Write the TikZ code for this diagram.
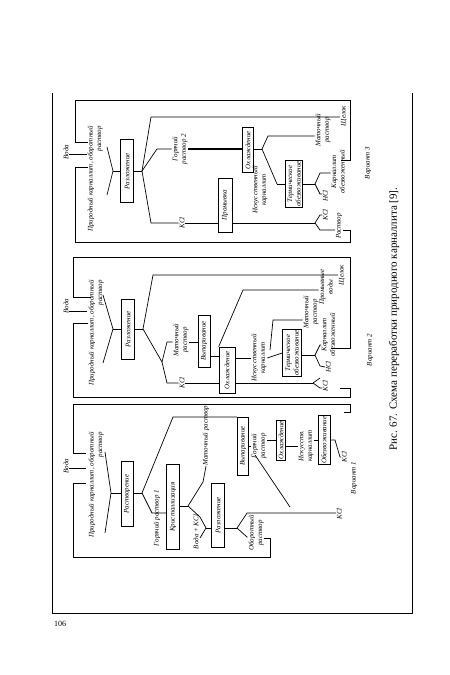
\documentclass[tikz,border=0pt]{standalone}
\usepackage{fontspec}
\setmainfont{Liberation Serif}
\usetikzlibrary{positioning}

\begin{document}
\begin{tikzpicture}[x=1pt,y=-1pt,line width=0.7pt,
    lbl/.style={rotate=90,font=\fontsize{7}{8.5}\selectfont\itshape,inner sep=0.5pt,align=center},
    pbox/.style={lbl,draw,inner sep=1pt}]
  \useasboundingbox (0,0) rectangle (450,675);
  % page frame, page number and caption
  \draw (52,93) -- (52,613) -- (412,613) -- (412,93);
  \node (pagenum) at (60,624) {\fontsize{8}{9}\selectfont 106};
  \node[rotate=90,font=\fontsize{11}{12}\selectfont] (caption) at (394,319) {Рис. 67. Схема переработки природного карналлита [9].};

  % ---- variant 3 ----
  \node[lbl] (v3water) at (66,152) {Вода};
  \node[lbl,align=right] (v3feed) at (95,179) {Природный карналлит, оборотный\\раствор};
  \coordinate (v3mt) at (107,147);
  \coordinate (v3m) at (113,171);
  \coordinate (v3mb) at (107,195);
  \draw (v3mt) -- (v3m) -- (v3mb);
  \node[pbox,minimum width=63pt,minimum height=13pt] (v3dec) at (127,171) {Разложение};
  \draw (v3m) -- (v3dec.north);
  \coordinate (v3f1) at (142,171);
  \draw (v3dec.south) -- (v3f1);
  \node[lbl] (v3liq) at (344,116) {Щелок};
  \coordinate (v3u) at (151,117);
  \draw (v3f1) -- (v3u) -- (v3liq.north |- v3u);
  \node[lbl] (v3hot) at (180,149) {Горячий\\раствор 2};
  \coordinate (v3h) at (157,149);
  \draw (v3f1) -- (v3h) -- (v3hot.north |- v3h);
  \node[pbox,minimum width=45pt,minimum height=11pt] (v3cool) at (248,150) {Охлаждение};
  \draw[line width=1.4pt] (v3hot.south |- v3h) -- (v3cool.north |- v3h);
  \coordinate (v3f2) at (262,149);
  \draw (v3cool.south |- v3f2) -- (v3f2);
  \node[lbl] (v3moth) at (323,130) {Маточный\\раствор};
  \coordinate (v3mu) at (268,136);
  \draw (v3f2) -- (v3mu) -- (v3moth.north |- v3mu);
  \node[lbl] (v3art) at (260,190) {Искусственный\\карналлит};
  \coordinate (v3ad) at (277,184);
  \draw (v3f2) -- (v3ad);
  \node[pbox,minimum width=47pt,minimum height=17pt] (v3dehy) at (294,184) {Термическое\\обезвоживание};
  \draw (v3ad) -- (v3dehy.north);
  \coordinate (v3f3) at (315,184);
  \draw (v3dehy.south) -- (v3f3);
  \node[lbl] (v3dcarn) at (338,172) {Карналлит\\обезвоженный};
  \coordinate (v3du) at (320,173);
  \draw (v3f3) -- (v3du) -- (v3dcarn.north |- v3du);
  \coordinate (v3dd) at (320,194);
  \node[lbl,anchor=north] (v3hcl) at (322,196) {HCl};
  \draw (v3f3) -- (v3dd) -- (v3hcl.north |- v3dd);
  \node[lbl] (v3kcl) at (182,223) {KCl};
  \coordinate (v3l) at (151,223);
  \draw (v3f1) -- (v3l) -- (v3kcl.north);
  \node[pbox,minimum width=54pt,minimum height=14pt] (v3wash) at (225,205) {Промывка};
  \draw (v3kcl.south) -- (v3wash.north |- v3kcl);
  \coordinate (v3f4) at (315,223);
  \draw (v3wash.south |- v3f4) -- (v3f4);
  \coordinate (v3wu) at (320,215);
  \coordinate (v3wd) at (320,230);
  \node[lbl,anchor=north] (v3kcl2) at (322,215) {KCl};
  \node[lbl] (v3sol) at (339,226) {Раствор};
  \draw (v3f4) -- (v3wu) -- (v3kcl2.north);
  \draw (v3f4) -- (v3wd) -- (v3sol.north |- v3wd);
  % returns
  \coordinate (v3r1) at (341,160);
  \coordinate (v3r2) at (350,160);
  \coordinate (v3r3) at (350,100);
  \coordinate (v3r4) at (75,100);
  \coordinate (v3r5) at (75,142);
  \coordinate (v3r6) at (88,142);
  \draw (v3r1) -- (v3r2) -- (v3r3) -- (v3r4) -- (v3r5) -- (v3r6);
  \coordinate (v3s1) at (350,230);
  \coordinate (v3s2) at (350,242);
  \coordinate (v3s3) at (75,242);
  \coordinate (v3s4) at (75,167);
  \coordinate (v3s5) at (88,167);
  \draw (v3sol.south |- v3wd) -- (v3s1) -- (v3s2) -- (v3s3) -- (v3s4) -- (v3s5);
  \coordinate (v3wi) at (87,154);
  \draw (v3water.south |- v3wi) -- (v3wi);
  \node[lbl] (v3name) at (368,163) {Вариант 3};

  % ---- variant 2 ----
  \node[lbl] (v2water) at (66,306) {Вода};
  \node[lbl,align=right] (v2feed) at (96,333) {Природный карналлит, оборотный\\раствор};
  \coordinate (v2mt) at (103,295);
  \coordinate (v2m) at (113,329);
  \coordinate (v2mb) at (103,363);
  \draw (v2mt) -- (v2m) -- (v2mb);
  \node[pbox,minimum width=60pt,minimum height=13pt] (v2dec) at (128,329) {Разложение};
  \draw (v2m) -- (v2dec.north);
  \coordinate (v2f1) at (143,329);
  \draw (v2dec.south) -- (v2f1);
  \node[lbl] (v2liq) at (342,275) {Щелок};
  \coordinate (v2u) at (153,275);
  \draw (v2f1) -- (v2u) -- (v2liq.north |- v2u);
  \coordinate (v2f2) at (162,362);
  \draw (v2f1) -- (v2f2);
  \node[lbl] (v2moth) at (181,340) {Маточный\\раствор};
  \coordinate (v2mu) at (167,342);
  \draw (v2f2) -- (v2mu) -- (v2moth.north |- v2mu);
  \node[pbox,minimum width=52pt,minimum height=12pt] (v2evap) at (204,341) {Выпаривание};
  \draw (v2moth.south |- v2mu) -- (v2evap.north |- v2mu);
  \node[lbl] (v2kcl) at (182,383) {KCl};
  \coordinate (v2kd) at (167,383);
  \draw (v2f2) -- (v2kd) -- (v2kcl.north);
  \node[pbox,minimum width=46pt,minimum height=16pt] (v2cryst) at (227,370) {Охлаждение};
  \draw (v2kcl.south) -- (v2cryst.north |- v2kcl);
  \draw (v2evap.south |- 0,356) -- (v2cryst.north |- 0,356);
  \coordinate (v2c1) at (243,290);
  \node[lbl] (v2wat) at (326,287) {Промывные\\воды};
  \draw (v2cryst.north east) -- (v2c1) -- (v2wat.north |- v2c1);
  \node[lbl] (v2art) at (259,358) {Искусственный\\карналлит};
  \draw (v2cryst.south |- v2art) -- (v2art.north);
  \coordinate (v2c2) at (270,350);
  \coordinate (v2c3) at (273,320);
  \node[lbl] (v2moth2) at (311,312) {Маточный\\раствор};
  \draw (v2c2) -- (v2c3) -- (v2moth2.north |- v2c3);
  \node[pbox,minimum width=41pt,minimum height=19pt] (v2dehy) at (292,353) {Термическое\\обезвоживание};
  \draw (v2art.south) -- (v2dehy.north);
  \coordinate (v2f3) at (315,355);
  \draw (v2dehy.south |- v2f3) -- (v2f3);
  \coordinate (v2du) at (320,345);
  \node[lbl,anchor=north] (v2dcarn) at (321,335) {Карналлит\\обезвоженный};
  \draw (v2f3) -- (v2du) -- (v2dcarn.north |- v2du);
  \coordinate (v2dd) at (320,366);
  \node[lbl,anchor=north] (v2hcl) at (325,367) {HCl};
  \draw (v2f3) -- (v2dd) -- (v2hcl.north);
  \coordinate (v2f4) at (313,383);
  \draw (v2cryst.south |- v2f4) -- (v2f4);
  \coordinate (v2wu) at (320,378);
  \coordinate (v2wd) at (320,388);
  \node[lbl,anchor=north] (v2kcl2) at (322,386) {KCl};
  \draw (v2f4) -- (v2wu);
  \draw (v2f4) -- (v2wd) -- (v2kcl2.north |- v2wd);
  % returns
  \coordinate (v2r1) at (331,348);
  \coordinate (v2r2) at (350,348);
  \coordinate (v2r3) at (350,257);
  \coordinate (v2r4) at (73,257);
  \coordinate (v2r5) at (73,297);
  \coordinate (v2r6) at (91,297);
  \draw (v2r1) -- (v2r2) -- (v2r3) -- (v2r4) -- (v2r5) -- (v2r6);
  \coordinate (v2s1) at (340,388);
  \coordinate (v2s2) at (350,388);
  \coordinate (v2s3) at (350,397);
  \coordinate (v2s4) at (73,397);
  \coordinate (v2s5) at (73,323);
  \coordinate (v2s6) at (88,323);
  \draw (v2s1) -- (v2s2) -- (v2s3) -- (v2s4) -- (v2s5) -- (v2s6);
  \coordinate (v2wi) at (87,311);
  \draw (v2water.south |- v2wi) -- (v2wi);
  \node[lbl] (v2name) at (370,350) {Вариант 2};

  % ---- variant 1 ----
  \node[lbl] (v1water) at (66,466) {Вода};
  \node[lbl,align=right] (v1feed) at (96,485) {Природный карналлит, оборотный\\раствор};
  \coordinate (v1mt) at (105,452);
  \coordinate (v1m) at (111,493);
  \coordinate (v1mb) at (105,533);
  \draw (v1mt) -- (v1m) -- (v1mb);
  \node[pbox,minimum width=65pt,minimum height=12pt] (v1dis) at (127,494) {Растворение};
  \draw (v1m) -- (v1dis.north |- v1m);
  \coordinate (v1f1) at (142,493);
  \draw (v1dis.south |- v1f1) -- (v1f1);
  \coordinate (v1u) at (173,417);
  \node[pbox,minimum width=58pt,minimum height=11pt] (v1evap) at (243,446) {Выпаривание};
  \draw (v1f1) -- (v1u) -- (v1evap.north |- v1u);
  \node[lbl] (v1hot2) at (259,446) {Горячий\\раствор};
  \node[pbox,minimum width=40pt,minimum height=9pt] (v1cool) at (281,440) {Охлаждение};
  \node[lbl] (v1art) at (306,446) {Искусств.\\карналлит};
  \node[pbox,minimum width=40pt,minimum height=12pt] (v1dehy) at (324,440) {Обезвоживание};
  \draw (v1evap.south |- v1hot2) -- (v1hot2.north);
  \draw (v1hot2.south |- v1cool) -- (v1cool.north);
  \draw (v1cool.south |- v1art) -- (v1art.north);
  \draw (v1art.south |- v1dehy) -- (v1dehy.north);
  \coordinate (v1d1) at (335,440);
  \coordinate (v1d2) at (340,457);
  \node[lbl,anchor=north] (v1kcl3) at (341,457) {KCl};
  \draw (v1dehy.south) -- (v1d1) -- (v1d2) -- (v1kcl3.north |- v1d2);
  \node[lbl] (v1hot) at (157,518) {Горячий раствор 1};
  \coordinate (v1h) at (152,513);
  \node[pbox,minimum width=85pt,minimum height=13pt] (v1cryst) at (173,507) {Кристаллизация};
  \draw (v1f1) -- (v1h) -- (v1cryst.north |- v1h);
  \coordinate (v1f2) at (188,506);
  \draw (v1cryst.south |- v1f2) -- (v1f2);
  \node[lbl,anchor=east] (v1moth) at (206,405) {Маточный раствор};
  \coordinate (v1mo) at (203,482);
  \draw (v1f2) -- (v1mo) -- (v1moth.west);
  \node[lbl] (v1wk) at (196,532) {Вода + KCl};
  \coordinate (v1kt) at (200,517);
  \coordinate (v1k) at (206,528);
  \coordinate (v1kb) at (200,538);
  \draw (v1f2) -- (v1kt) -- (v1k) -- (v1kb);
  \node[pbox,minimum width=64pt,minimum height=13pt] (v1dec) at (218,515) {Разложение};
  \draw (v1k) -- (v1dec.north |- v1k);
  \coordinate (v1f3) at (237,528);
  \draw (v1dec.south |- v1f3) -- (v1f3);
  \coordinate (v1ku) at (247,513);
  \coordinate (v1diag) at (255,455);
  \coordinate (v1kj) at (290,507);
  \node[lbl,anchor=north] (v1kcl) at (336,514) {KCl};
  \draw (v1f3) -- (v1ku) -- (v1kcl.north |- v1ku);
  \draw (v1diag) -- (v1kj);
  \coordinate (v1kd) at (247,537);
  \node[lbl] (v1ret) at (256,533) {Оборотный\\раствор};
  \draw (v1f3) -- (v1kd) -- (v1ret.north |- v1kd);
  % returns
  \coordinate (v1r1) at (344,412);
  \coordinate (v1r2) at (350,412);
  \coordinate (v1r3) at (350,404);
  \coordinate (v1r4) at (73,404);
  \coordinate (v1r5) at (73,453);
  \coordinate (v1r6) at (86,453);
  \draw (v1r1) -- (v1r2) -- (v1r3) -- (v1r4) -- (v1r5) -- (v1r6);
  \coordinate (v1s1) at (270,538);
  \coordinate (v1s2) at (270,557);
  \coordinate (v1s3) at (73,557);
  \coordinate (v1s4) at (73,483);
  \coordinate (v1s5) at (86,483);
  \draw (v1ret.south |- v1s1) -- (v1s1) -- (v1s2) -- (v1s3) -- (v1s4) -- (v1s5);
  \coordinate (v1wi) at (86,468);
  \draw (v1water.south |- v1wi) -- (v1wi);
  \node[lbl] (v1name) at (354,478) {Вариант 1};
\end{tikzpicture}
\end{document}
